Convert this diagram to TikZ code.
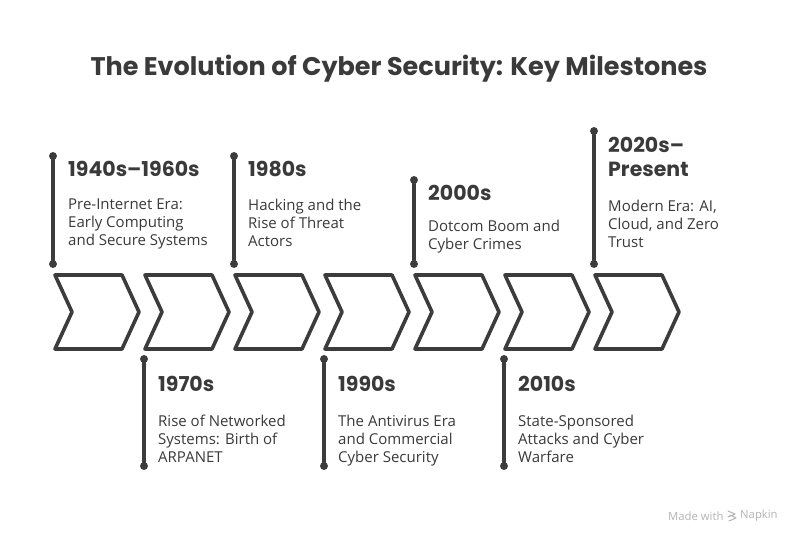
\documentclass[tikz,border=0pt]{standalone}
\usepackage{fontspec}
\setmainfont{Open Sans}
\newfontfamily\headfont{Poppins}
\definecolor{ink}{HTML}{3C3C3C}
\definecolor{txt}{HTML}{3A3A3A}
\definecolor{wmgray}{HTML}{B4B4B4}
\tikzset{
  chev/.style={draw=ink, line width=3.6pt, line join=round, fill=white},
  stem/.style={draw=ink, line width=3.4pt, line cap=round},
  knob/.style={fill=ink, draw=ink, line width=0.8pt, circle, inner sep=0pt, minimum size=7pt},
  head/.style={anchor=west, inner sep=0pt, text=txt, font=\headfont\bfseries\fontsize{20.5}{24}\selectfont, align=left},
  body/.style={anchor=north west, inner sep=0pt, text=txt, font=\fontsize{15}{18}\selectfont, align=left},
}
\newcommand{\upmarker}[3]{% x, ytop, name
  \node[knob] (#3a) at (#1,#2) {};
  \node[knob] (#3b) at (#1,264) {};
  \draw[stem] (#3a) -- (#3b);
}
\newcommand{\downmarker}[2]{%
  \node[knob] (#2a) at (#1,359) {};
  \node[knob] (#2b) at (#1,466) {};
  \draw[stem] (#2a) -- (#2b);
}
\begin{document}
\begin{tikzpicture}[x=1pt,y=-1pt]
\useasboundingbox[fill=white] (0,0) rectangle (798,540);
\node[font=\headfont\bfseries\fontsize{25.5}{28}\selectfont, text=txt] (title) at (399,69) {The Evolution of Cyber Security: Key Milestones};
% chevrons
\foreach \i in {0,...,6}{
  \pgfmathsetmacro{\xo}{53+90*\i}
  \draw[chev] (\xo+2,275) -- (\xo+69,275) -- (\xo+86,312) -- (\xo+69,349) -- (\xo+2,349) -- (\xo+19,312) -- cycle;
}
\upmarker{53}{156}{m1}
\upmarker{234}{156}{m3}
\upmarker{414}{180}{m5}
\upmarker{594}{131}{m7}
\downmarker{144}{m2}
\downmarker{324}{m4}
\downmarker{504}{m6}
% texts
\node[head] (h1) at (68,169) {1940s–1960s};
\node[body] (b1) at (68,199) {Pre-Internet Era:\\Early Computing\\and Secure Systems};
\node[head] (h3) at (248,169) {1980s};
\node[body] (b3) at (248,199) {Hacking and the\\Rise of Threat\\Actors};
\node[head] (h5) at (428,193) {2000s};
\node[body] (b5) at (428,220) {Dotcom Boom and\\Cyber Crimes};
\node[head, anchor=north west] (h7) at (608,137) {2020s–\\Present};
\node[body] (b7) at (608,200) {Modern Era: AI,\\Cloud, and Zero\\Trust};
\node[head] (h2) at (158,384) {1970s};
\node[body] (b2) at (158,415) {Rise of Networked\\Systems: Birth of\\ARPANET};
\node[head] (h4) at (338,384) {1990s};
\node[body] (b4) at (338,415) {The Antivirus Era\\and Commercial\\Cyber Security};
\node[head] (h6) at (518,384) {2010s};
\node[body] (b6) at (518,415) {State-Sponsored\\Attacks and Cyber\\Warfare};
% watermark
\node[anchor=west, inner sep=0pt, text=wmgray, font=\fontsize{11.3}{13}\selectfont] (mw) at (668,516) {Made with};
\draw[wmgray, line width=1pt, line cap=round, line join=round] (728,511) -- (735,514) -- (728,517) (730,515) -- (736,518) -- (729,521);
\node[anchor=west, inner sep=0pt, text=wmgray, font=\fontsize{11.3}{13}\selectfont] (nk) at (740,516) {Napkin};
\end{tikzpicture}
\end{document}
